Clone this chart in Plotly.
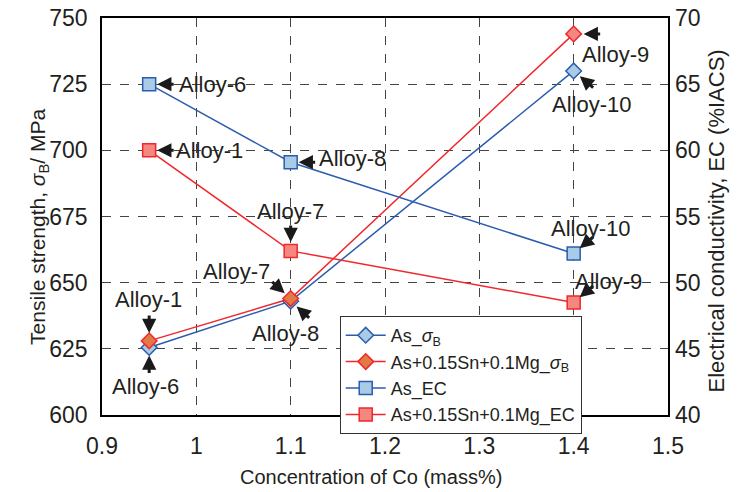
import plotly.graph_objects as go

# ---- data ----
co = [0.95, 1.1, 1.4]
as_sigma = [625.5, 643.0, 730.0]
sn_sigma = [628.0, 644.0, 744.0]
as_ec = [65.0, 59.1, 52.2]
sn_ec = [60.0, 52.4, 48.5]

names = ["As_<i>σ</i><sub>B</sub>", "As+0.15Sn+0.1Mg_<i>σ</i><sub>B</sub>", "As_EC", "As+0.15Sn+0.1Mg_EC"]
x_ticks = [0.9, 1.0, 1.1, 1.2, 1.3, 1.4, 1.5]
x_tick_text = ["0.9", "1", "1.1", "1.2", "1.3", "1.4", "1.5"]

BLUE = "#2b5cb0"
BLUE_FILL = "#a9cbe6"
RED = "#f0282d"
RED_FILL = "#f4877f"
ORANGE = "#e27a45"
TXT = "#231f20"
FONT = "Liberation Sans, Arial, sans-serif"

fig = go.Figure()
fig.add_trace(go.Scatter(x=co, y=as_sigma, name=names[0], mode="lines+markers",
                         line=dict(color=BLUE, width=1.5),
                         marker=dict(symbol="diamond", size=12, color=BLUE_FILL,
                                     line=dict(color=BLUE, width=1.5))))
fig.add_trace(go.Scatter(x=co, y=sn_sigma, name=names[1], mode="lines+markers",
                         line=dict(color=RED, width=1.5),
                         marker=dict(symbol="diamond", size=12, color=[ORANGE, ORANGE, RED_FILL],
                                     line=dict(color=RED, width=1.5))))
fig.add_trace(go.Scatter(x=co, y=as_ec, name=names[2], mode="lines+markers", yaxis="y2",
                         line=dict(color=BLUE, width=1.5),
                         marker=dict(symbol="square", size=13, color=BLUE_FILL,
                                     line=dict(color=BLUE, width=1.5))))
fig.add_trace(go.Scatter(x=co, y=sn_ec, name=names[3], mode="lines+markers", yaxis="y2",
                         line=dict(color=RED, width=1.5),
                         marker=dict(symbol="square", size=13, color=RED_FILL,
                                     line=dict(color=RED, width=1.5))))

anns = []


def label(xv, yv, yref, text, dx, dy, ax, ay, standoff=8):
    # arrow
    anns.append(dict(x=xv, y=yv, xref="x", yref=yref, text="", showarrow=True,
                     ax=ax, ay=ay, arrowhead=2, arrowsize=0.95, arrowwidth=3,
                     arrowcolor="#1a1a1a", standoff=standoff))
    # text
    anns.append(dict(x=xv, y=yv, xref="x", yref=yref, text=text, showarrow=False,
                     xshift=dx, yshift=dy, font=dict(size=22, color=TXT, family=FONT)))


label(co[0], as_ec[0], "y2", "Alloy-6", 63, 0, 26, 0)
label(co[0], sn_ec[0], "y2", "Alloy-1", 60, 0, 26, 0)
label(co[1], as_ec[1], "y2", "Alloy-8", 62, 4, 26, 0)
label(co[1], sn_ec[1], "y2", "Alloy-7", 0, 39, 0, -27, standoff=9)
label(co[2], as_ec[2], "y2", "Alloy-10", 17, 25, 21, -18)
label(co[2], sn_ec[2], "y2", "Alloy-9", 35, 21, 21, -18)
label(co[2], sn_sigma[2], "y", "Alloy-9", 42, -21, 28, 0, standoff=10)
label(co[2], as_sigma[2], "y", "Alloy-10", 18, -34, 21, 18)
label(co[0], sn_sigma[0], "y", "Alloy-1", -1, 41, 0, -27)
label(co[0], as_sigma[0], "y", "Alloy-6", -4, -39, 0, 27)
label(co[1], sn_sigma[1], "y", "Alloy-7", -54, 27, -20, -18)
label(co[1], as_sigma[1], "y", "Alloy-8", -5, -32, 20, 18)

# axis titles as annotations for exact placement
anns.append(dict(x=(371 - 102) / 566, y=-0.157, xref="paper", yref="paper", showarrow=False,
                 text="Concentration of Co (mass%)", yanchor="middle",
                 font=dict(size=20, color=TXT, family=FONT)))
anns.append(dict(x=-0.138, y=(415 - 227) / 397, xref="paper", yref="paper", showarrow=False,
                 text="Tensile strength, <i>σ</i><sub>B</sub>/ MPa", textangle=-90,
                 font=dict(size=21, color=TXT, family=FONT)))
anns.append(dict(x=(730 - 102) / 566, y=(415 - 221) / 397, xref="paper", yref="paper",
                 showarrow=False, text="Electrical conductivity, EC (%IACS)", textangle=-90,
                 font=dict(size=22, color=TXT, family=FONT)))

grid = dict(showgrid=True, gridcolor="#444444", griddash="dash", gridwidth=1)

fig.update_layout(
    width=743, height=492,
    margin=dict(l=102, r=75, t=18, b=77, autoexpand=False),
    paper_bgcolor="white", plot_bgcolor="white",
    font=dict(family=FONT, color=TXT),
    showlegend=True,
    legend=dict(x=0.42, y=(415 - 316) / 397, xanchor="left", yanchor="top",
                bgcolor="white", bordercolor="#333333", borderwidth=1,
                font=dict(size=18, color=TXT, family=FONT), itemwidth=40,
                tracegroupgap=0),
    xaxis=dict(range=[0.9, 1.5], tickvals=x_ticks, ticktext=x_tick_text,
               showline=True, linecolor="black", linewidth=1.5, mirror=True,
               ticks="", zeroline=False, ticklabelstandoff=10, automargin=False,
               tickfont=dict(size=23, color=TXT, family=FONT), **grid),
    yaxis=dict(range=[600, 750], dtick=25, showline=True, linecolor="black",
               linewidth=1.5, mirror=True, ticks="", zeroline=False,
               ticklabelstandoff=8, automargin=False,
               tickfont=dict(size=23, color=TXT, family=FONT), **grid),
    yaxis2=dict(range=[40, 70], dtick=5, overlaying="y", side="right",
                showgrid=False, zeroline=False, showline=False, ticks="",
                ticklabelstandoff=6, automargin=False,
                tickfont=dict(size=23, color=TXT, family=FONT)),
    annotations=anns,
)

fig.write_html("out.html")
